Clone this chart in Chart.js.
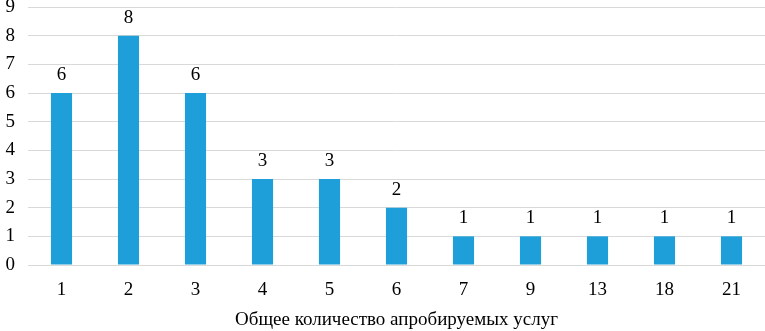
<!DOCTYPE html>
<html>
<head>
<meta charset="utf-8">
<script src="https://cdn.jsdelivr.net/npm/chart.js@4.4.0/dist/chart.umd.min.js"></script>
<style>
  body { margin: 0; background: #fff; }
  #wrap { width: 765px; height: 331px; }
</style>
</head>
<body>
<div id="wrap"><canvas id="myChart" width="765" height="331"></canvas></div>
<script>
const categories = ["1", "2", "3", "4", "5", "6", "7", "9", "13", "18", "21"];
const counts = [6, 8, 6, 3, 3, 2, 1, 1, 1, 1, 1];
const yTicks = [0, 1, 2, 3, 4, 5, 6, 7, 8, 9];

const serif = "'Liberation Serif', 'Times New Roman', serif";

// simple value labels above the bars
const barLabels = {
  id: "barLabels",
  afterDatasetsDraw(chart) {
    const ctx = chart.ctx;
    const meta = chart.getDatasetMeta(0);
    ctx.save();
    ctx.font = "19px " + serif;
    ctx.fillStyle = "#000";
    ctx.textAlign = "center";
    ctx.textBaseline = "middle";
    meta.data.forEach((bar, i) => {
      ctx.fillText(counts[i], bar.x, bar.y - 18);
    });
    ctx.restore();
  }
};

const ctx = document.getElementById("myChart").getContext("2d");
const myChart = new Chart(ctx, {
  type: "bar",
  data: {
    labels: categories,
    datasets: [{
      data: counts,
      backgroundColor: "#1f9fd9",
      barPercentage: 0.63,
      categoryPercentage: 0.5
    }]
  },
  options: {
    responsive: false,
    animation: false,
    layout: { padding: { top: 0, right: 0, left: 0, bottom: 0 } },
    plugins: {
      legend: { display: false },
      tooltip: { enabled: false }
    },
    scales: {
      y: {
        min: 0,
        max: 9,
        afterBuildTicks: (axis) => { axis.ticks = yTicks.map(v => ({ value: v })); },
        afterFit: (axis) => {
          axis.width = 28;
          axis.paddingTop = 7;
          axis.paddingBottom = 0;
        },
        border: { display: false },
        grid: { color: "#d9d9d9", drawTicks: false, lineWidth: 1 },
        ticks: {
          color: "#000",
          font: { family: serif, size: 19, lineHeight: 0.75 },
          padding: 13,
          align: "center",
          crossAlign: "near"
        }
      },
      x: {
        border: { display: true, color: "#d9d9d9" },
        grid: { display: false, drawTicks: false },
        ticks: {
          color: "#000",
          font: { family: serif, size: 19 },
          padding: 14,
          maxRotation: 0
        },
        afterFit: (axis) => { axis.height = 66; },
        title: {
          display: true,
          text: "Общее количество апробируемых услуг",
          color: "#000",
          font: { family: serif, size: 19 },
          padding: { top: 6, bottom: 0 }
        }
      }
    }
  },
  plugins: [barLabels]
});
</script>
</body>
</html>
